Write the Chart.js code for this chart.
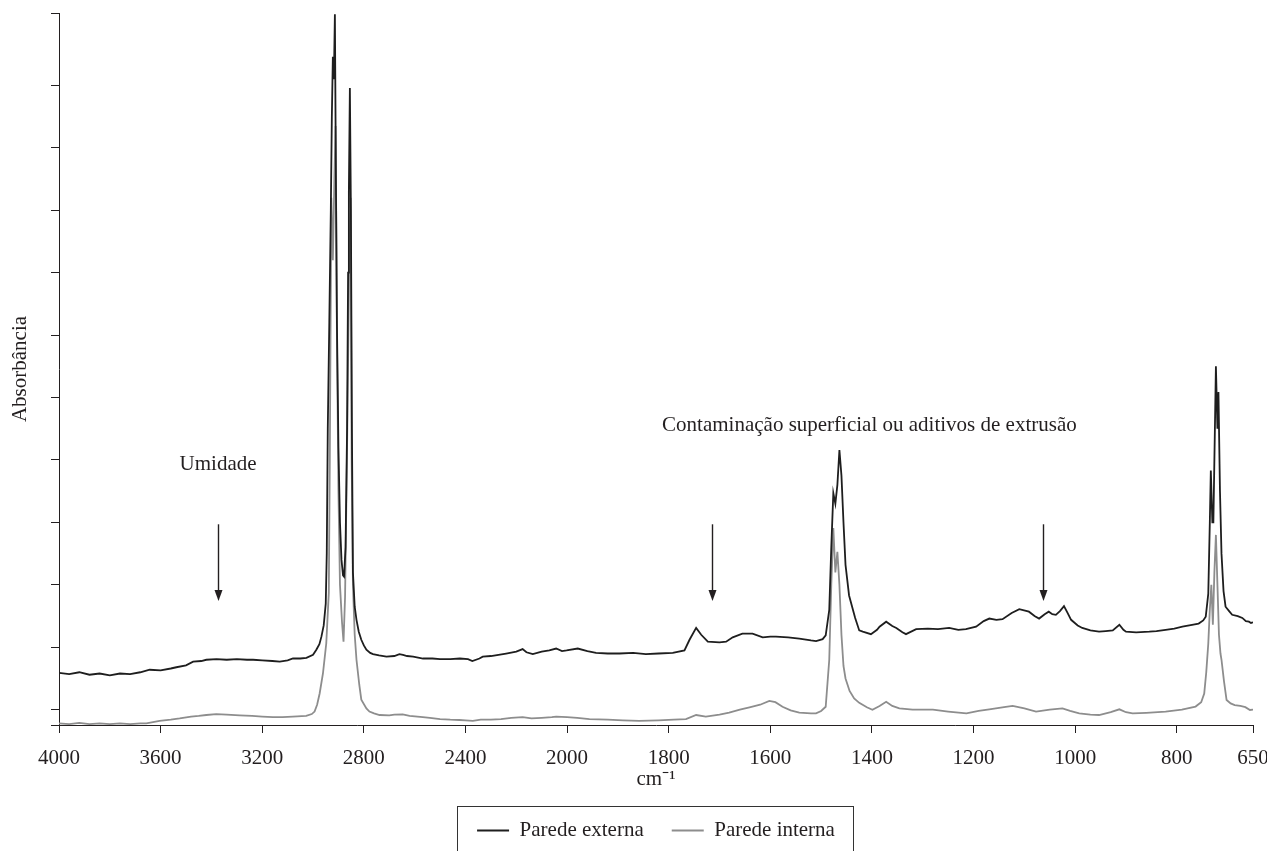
<!DOCTYPE html>
<html>
<head>
<meta charset="utf-8">
<script src="https://cdn.jsdelivr.net/npm/chart.js@4.4.1/dist/chart.umd.min.js"></script>
<style>
  html, body { margin: 0; padding: 0; background: #ffffff; }
  #wrap { width: 1267px; height: 851px; }
</style>
</head>
<body>
<div id="wrap"><canvas id="c" width="1267" height="851"></canvas></div>
<script>
// ---------------- DATA ----------------
const SERIES_NAMES = ['Parede externa', 'Parede interna'];

// Parede externa (black) – wavenumber (cm-1) and absorbance (arbitrary units)
const WN_EXT = [4000,3960,3920,3880,3840,3800,3760,3720,3680,3643,3600,3560,3538,3500,3472,3440,3420,3380,3340,3300,3260,3236,3200,3160,3131,3100,3079,3050,3026,3000,2987,2975,2967,2958,2950,2946,2942,2936,2930,2926,2922,2918,2914,2910,2906,2900,2894,2888,2882,2878,2872,2866,2862,2859,2855,2851,2847,2843,2836,2829,2820,2810,2800,2790,2775,2764,2740,2711,2680,2660,2646,2630,2606,2567,2530,2500,2460,2422,2390,2373,2345,2332,2300,2270,2240,2200,2175,2160,2135,2100,2070,2043,2020,2002,1979,1960,1943,1920,1897,1870,1845,1820,1792,1769,1759,1746,1736,1723,1700,1687,1674,1655,1635,1615,1600,1589,1565,1543,1520,1510,1497,1491,1484,1480,1476,1472,1468,1464,1460,1456,1452,1445,1433,1425,1418,1402,1390,1385,1372,1360,1352,1340,1333,1313,1290,1270,1248,1230,1215,1195,1180,1169,1155,1143,1125,1110,1091,1080,1071,1060,1052,1045,1038,1030,1022,1015,1008,995,986,970,953,940,926,913,905,900,880,854,840,822,805,789,770,757,748,743,738,735,733,730,728,725,723,720,718,715,712,708,704,697,691,680,671,664,658,654,650];
const ABS_EXT = [0.059,0.057,0.060,0.056,0.058,0.055,0.058,0.057,0.060,0.064,0.063,0.066,0.068,0.071,0.077,0.078,0.080,0.081,0.080,0.081,0.080,0.080,0.079,0.078,0.077,0.079,0.082,0.082,0.083,0.088,0.096,0.105,0.117,0.135,0.170,0.250,0.450,0.620,0.800,0.950,1.046,1.010,1.114,0.850,0.620,0.420,0.300,0.240,0.215,0.213,0.260,0.450,0.700,0.830,0.996,0.800,0.450,0.220,0.165,0.144,0.125,0.112,0.103,0.096,0.091,0.089,0.087,0.085,0.086,0.089,0.088,0.086,0.085,0.082,0.082,0.081,0.081,0.082,0.081,0.078,0.082,0.085,0.086,0.088,0.090,0.093,0.097,0.092,0.089,0.093,0.095,0.098,0.094,0.095,0.098,0.094,0.091,0.090,0.090,0.091,0.089,0.090,0.091,0.095,0.112,0.131,0.120,0.109,0.108,0.109,0.116,0.122,0.122,0.116,0.117,0.117,0.116,0.114,0.111,0.110,0.113,0.119,0.160,0.260,0.347,0.330,0.360,0.416,0.375,0.300,0.232,0.183,0.147,0.127,0.125,0.121,0.128,0.133,0.141,0.134,0.131,0.124,0.121,0.129,0.130,0.129,0.131,0.128,0.129,0.133,0.142,0.146,0.144,0.145,0.155,0.161,0.157,0.150,0.146,0.153,0.157,0.153,0.152,0.158,0.166,0.155,0.144,0.135,0.131,0.127,0.125,0.126,0.127,0.136,0.128,0.125,0.124,0.125,0.126,0.128,0.130,0.133,0.136,0.138,0.143,0.149,0.186,0.300,0.383,0.300,0.300,0.450,0.550,0.450,0.509,0.350,0.250,0.190,0.165,0.158,0.152,0.150,0.147,0.142,0.141,0.139,0.140];

// Parede interna (grey)
const WN_INT = [4000,3960,3920,3880,3840,3800,3760,3720,3680,3656,3630,3604,3560,3525,3480,3450,3420,3381,3340,3289,3240,3200,3158,3120,3080,3027,3005,2994,2984,2974,2961,2948,2938,2934,2928,2922,2916,2911,2906,2900,2894,2886,2880,2874,2866,2858,2852,2848,2843,2836,2829,2818,2810,2790,2778,2760,2738,2700,2680,2647,2620,2568,2540,2500,2460,2424,2400,2371,2340,2300,2260,2220,2175,2140,2100,2060,2043,2000,1980,1956,1920,1890,1858,1820,1790,1766,1746,1727,1700,1681,1660,1641,1620,1602,1590,1576,1560,1543,1520,1510,1500,1491,1484,1480,1476,1472,1468,1464,1460,1456,1452,1444,1435,1425,1410,1399,1385,1372,1360,1346,1320,1280,1250,1214,1190,1169,1140,1123,1100,1077,1050,1025,1010,992,970,953,930,913,900,887,860,822,790,763,752,746,742,738,735,732,729,726,723,720,717,714,712,707,702,694,686,675,665,656,650];
const ABS_INT = [-0.022,-0.023,-0.021,-0.023,-0.022,-0.023,-0.022,-0.023,-0.022,-0.022,-0.020,-0.018,-0.016,-0.014,-0.011,-0.010,-0.0085,-0.007,-0.008,-0.009,-0.010,-0.011,-0.012,-0.012,-0.011,-0.010,-0.007,-0.003,0.008,0.026,0.058,0.106,0.187,0.400,0.820,0.720,0.850,0.935,0.600,0.350,0.200,0.140,0.109,0.180,0.420,0.700,0.820,0.400,0.200,0.120,0.080,0.040,0.016,0.002,-0.003,-0.006,-0.0085,-0.009,-0.008,-0.0074,-0.010,-0.012,-0.013,-0.015,-0.016,-0.0165,-0.017,-0.018,-0.016,-0.016,-0.015,-0.013,-0.012,-0.014,-0.013,-0.012,-0.011,-0.012,-0.013,-0.015,-0.016,-0.017,-0.018,-0.017,-0.016,-0.015,-0.0085,-0.011,-0.008,-0.0048,0.000,0.0038,0.008,0.014,0.012,0.0048,-0.001,-0.0048,-0.006,-0.0058,-0.002,0.0048,0.080,0.200,0.291,0.220,0.253,0.200,0.120,0.070,0.050,0.030,0.018,0.011,0.004,0.000,0.006,0.0128,0.006,0.002,0.000,0.000,-0.003,-0.006,-0.002,0.0006,0.004,0.006,0.002,-0.003,0.000,0.002,-0.002,-0.006,-0.008,-0.0085,-0.004,0.0006,-0.004,-0.006,-0.005,-0.003,0.000,0.005,0.012,0.026,0.060,0.106,0.160,0.200,0.136,0.220,0.280,0.200,0.120,0.090,0.080,0.045,0.0155,0.010,0.0075,0.006,0.004,-0.0005,0.000];

// Axis ticks
const X_TICKS = [4000,3600,3200,2800,2400,2000,1800,1600,1400,1200,1000,800,650];
const Y_MIN = -0.0245, Y_MAX = 1.116;
const Y_TICKS = [Y_MIN,0,0.1,0.2,0.3,0.4,0.5,0.6,0.7,0.8,0.9,1.0,Y_MAX];

// Annotations (data coordinates)
const LABEL_TEXTS = ['Umidade', 'Contaminação superficial ou aditivos de extrusão'];
const LABEL_X = [3374, 1405];
const LABEL_Y = [0.392, 0.456];
const ARROW_X = [3374, 1714, 1064];
const ARROW_Y_FROM = 0.297, ARROW_Y_TO = 0.174;

// ---------------- FTIR axis (scale change at 2000 cm-1) ----------------
const AXIS_HIGH = 4000, AXIS_BREAK = 2000, AXIS_LOW = 650;
const STEP_HIGH = 400, STEP_LOW = 200;
const SPAN = (AXIS_HIGH - AXIS_BREAK) / STEP_HIGH + (AXIS_BREAK - AXIS_LOW) / STEP_LOW;

class FtirScale extends Chart.LinearScale {
  static id = 'ftir';
  static defaults = {};
  _units(v) {
    return v >= AXIS_BREAK ? (AXIS_HIGH - v) / STEP_HIGH
      : (AXIS_HIGH - AXIS_BREAK) / STEP_HIGH + (AXIS_BREAK - v) / STEP_LOW;
  }
  getPixelForValue(v) {
    if (v === null || v === undefined || isNaN(v)) return NaN;
    return this.getPixelForDecimal(this._units(v) / SPAN);
  }
  getValueForPixel(p) {
    const u = this.getDecimalForPixel(p) * SPAN;
    const hi = (AXIS_HIGH - AXIS_BREAK) / STEP_HIGH;
    return u <= hi ? AXIS_HIGH - u * STEP_HIGH : AXIS_BREAK - (u - hi) * STEP_LOW;
  }
}
Chart.register(FtirScale);

const FONT = 'Liberation Serif, Times New Roman, serif';
const TXT = '#231f20';

const annotationPlugin = {
  id: 'ftirAnnotations',
  afterDatasetsDraw(chart) {
    const {ctx, scales: {x, y}} = chart;
    ctx.save();
    ctx.fillStyle = TXT;
    ctx.strokeStyle = TXT;
    ctx.font = '21px ' + FONT;
    ctx.textAlign = 'center';
    ctx.textBaseline = 'middle';
    LABEL_TEXTS.forEach((t, i) => {
      ctx.fillText(t, x.getPixelForValue(LABEL_X[i]), y.getPixelForValue(LABEL_Y[i]));
    });
    ctx.lineWidth = 1.4;
    ARROW_X.forEach(wn => {
      const px = Math.round(x.getPixelForValue(wn)) + 0.5;
      const y0 = y.getPixelForValue(ARROW_Y_FROM);
      const y1 = y.getPixelForValue(ARROW_Y_TO);
      const head = 11, half = 4;
      ctx.beginPath();
      ctx.moveTo(px, y0);
      ctx.lineTo(px, y1 - head + 1);
      ctx.stroke();
      ctx.beginPath();
      ctx.moveTo(px - half, y1 - head);
      ctx.lineTo(px + half, y1 - head);
      ctx.lineTo(px, y1);
      ctx.closePath();
      ctx.fill();
    });
    ctx.restore();
  },
  afterDraw(chart) {
    const lg = chart.legend;
    if (!lg || !lg.legendHitBoxes || !lg.legendHitBoxes.length) return;
    const hb = lg.legendHitBoxes;
    const left = hb[0].left - 20;
    const last = hb[hb.length - 1];
    const right = last.left + last.width + 18;
    const ctx = chart.ctx;
    ctx.save();
    ctx.strokeStyle = '#333';
    ctx.lineWidth = 1;
    ctx.strokeRect(Math.round(left) + 0.5, 806.5, Math.round(right - left), 100);
    ctx.restore();
  }
};

const toPoints = (xs, ys) => xs.map((v, i) => ({x: v, y: ys[i]}));

new Chart(document.getElementById('c'), {
  type: 'line',
  data: {
    datasets: [
      {
        label: SERIES_NAMES[0],
        data: toPoints(WN_EXT, ABS_EXT),
        borderColor: '#1e1e1e',
        backgroundColor: '#1e1e1e',
        borderWidth: 1.8,
        pointRadius: 0,
        tension: 0,
        fill: false
      },
      {
        label: SERIES_NAMES[1],
        data: toPoints(WN_INT, ABS_INT),
        borderColor: '#8d8d8d',
        backgroundColor: '#8d8d8d',
        borderWidth: 1.8,
        pointRadius: 0,
        tension: 0,
        fill: false
      }
    ]
  },
  options: {
    responsive: false,
    animation: false,
    events: [],
    layout: { padding: { top: 13, right: 14, left: 0, bottom: 0 } },
    scales: {
      x: {
        type: 'ftir',
        position: 'bottom',
        min: AXIS_LOW,
        max: AXIS_HIGH,
        afterBuildTicks: s => { s.ticks = X_TICKS.map(v => ({value: v})); },
        afterFit: s => { s.height = 67; s.paddingLeft = 0; s.paddingRight = 0; },
        grid: { drawOnChartArea: false, drawTicks: true, tickLength: 8, color: TXT, lineWidth: 1 },
        border: { display: true, color: TXT, width: 1 },
        ticks: {
          autoSkip: false, maxRotation: 0, minRotation: 0, padding: 13,
          color: TXT, font: { family: FONT, size: 21 },
          callback: v => String(v)
        },
        title: { display: true, text: 'cm⁻¹', color: TXT, font: { family: FONT, size: 21 }, padding: { top: 0, bottom: 0 } }
      },
      y: {
        type: 'linear',
        min: Y_MIN,
        max: Y_MAX,
        afterBuildTicks: s => { s.ticks = Y_TICKS.map(v => ({value: v})); },
        afterFit: s => { s.width = 59; },
        grid: { drawOnChartArea: false, drawTicks: true, tickLength: 8, color: TXT, lineWidth: 1 },
        border: { display: true, color: TXT, width: 1 },
        ticks: { display: false },
        title: { display: true, text: 'Absorbância', color: TXT, font: { family: FONT, size: 21 }, padding: { top: 8, bottom: 0 } }
      }
    },
    plugins: {
      legend: {
        position: 'bottom',
        fullSize: false,
        labels: {
          usePointStyle: true,
          pointStyle: 'line',
          pointStyleWidth: 32,
          padding: 28,
          color: TXT,
          font: { family: FONT, size: 21 }
        }
      },
      tooltip: { enabled: false }
    }
  },
  plugins: [annotationPlugin]
});
</script>
</body>
</html>
